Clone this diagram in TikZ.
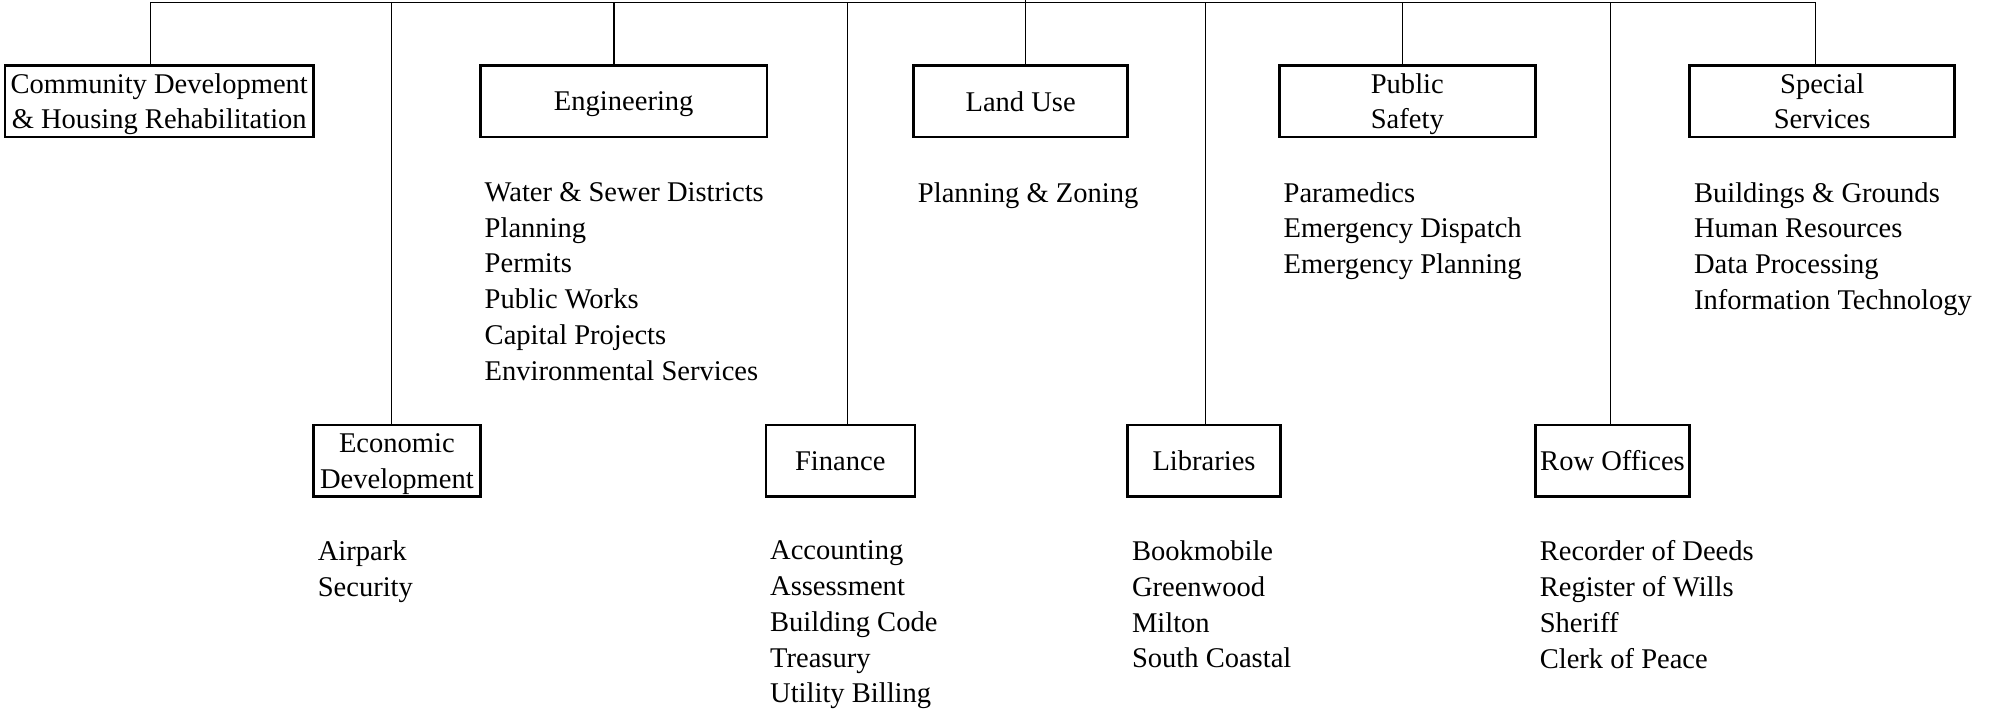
\documentclass[tikz,border=0pt]{standalone}
\usepackage{fontspec}
\setmainfont{Liberation Serif}
\usepackage{tikz}
\usetikzlibrary{calc}

\begin{document}
\begin{tikzpicture}[x=0.5pt,y=-0.5pt,
    dept/.style={draw,line width=1pt,align=center,inner sep=0pt,minimum height=28pt,text depth=0pt,font=\fontsize{11.15}{14}\selectfont},
    duties/.style={anchor=north west,align=left,inner sep=0pt,font=\fontsize{11.15}{14}\selectfont},
    link/.style={line width=0.5pt}]
    \useasboundingbox (0,0) rectangle (1561,555);

    % upper row
    \node[dept,minimum width=120.5pt] (comm) at (124.4,79) {Community Development\\\& Housing Rehabilitation};
    \node[dept,minimum width=112pt] (eng) at (487.3,79) {Engineering};
    \node[dept,minimum width=83.6pt] (land) at (797.4,79) {Land Use};
    \node[dept,minimum width=100pt] (pubsafe) at (1099.5,79) {Public\\Safety};
    \node[dept,minimum width=103.5pt] (special) at (1423.6,79) {Special\\Services};

    % lower row
    \node[dept,minimum width=65.2pt] (econ) at (310.1,360) {Economic\\Development};
    \node[dept,minimum width=58.2pt] (finance) at (656.5,360) {Finance};
    \node[dept,minimum width=59.7pt] (libs) at (940.7,360) {Libraries};
    \node[dept,minimum width=60.2pt] (rowoff) at (1259.8,360) {Row Offices};

    \node[duties] (engList) at ($(eng.south west)+(4,34)$) {Water \& Sewer Districts\\Planning\\Permits\\Public Works\\Capital Projects\\Environmental Services};
    \node[duties] (landList) at ($(land.south west)+(4,34)$) {Planning \& Zoning};
    \node[duties] (pubsafeList) at ($(pubsafe.south west)+(4,34)$) {Paramedics\\Emergency Dispatch\\Emergency Planning};
    \node[duties] (specialList) at ($(special.south west)+(4,34)$) {Buildings \& Grounds\\Human Resources\\Data Processing\\Information Technology};
    \node[duties] (econList) at ($(econ.south west)+(4,33)$) {Airpark\\Security};
    \node[duties] (financeList) at ($(finance.south west)+(4,33)$) {Accounting\\Assessment\\Building Code\\Treasury\\Utility Billing};
    \node[duties] (libsList) at ($(libs.south west)+(4,33)$) {Bookmobile\\Greenwood\\Milton\\South Coastal};
    \node[duties] (rowoffList) at ($(rowoff.south west)+(4,33)$) {Recorder of Deeds\\Register of Wills\\Sheriff\\Clerk of Peace};

    % branches off the top line
    \coordinate (root) at (801.4,-6);
    \foreach \name/\xpos in {comm/117.5,econ/305.6,eng/479.8,finance/662,land/801.4,libs/941.7,pubsafe/1096,rowoff/1258.3,special/1418.6}{
        \coordinate (top-\name) at (\xpos,2);
        \draw[link] (top-\name) -- (top-\name |- \name.north);
    }
    \draw[link] (top-comm) -- (top-special);
    \draw[link] (root) -- (top-land);

\end{tikzpicture}
\end{document}
